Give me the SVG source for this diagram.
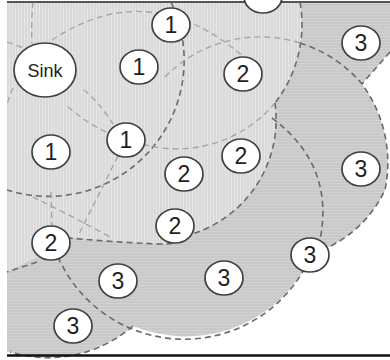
<svg xmlns="http://www.w3.org/2000/svg" width="390" height="360" viewBox="0 0 390 360">
<defs>
<pattern id="vs" width="3" height="10" patternUnits="userSpaceOnUse"><rect width="3" height="10" fill="#d9d9d9"/><rect width="1" height="10" fill="#e6e6e6"/></pattern>
<pattern id="hs" width="10" height="3" patternUnits="userSpaceOnUse"><rect width="10" height="3" fill="#c9c9c9"/><rect width="10" height="1" fill="#d2d2d2"/></pattern>
</defs>
<style>
.d{fill:none;stroke:#6a6a6a;stroke-width:1.6;stroke-dasharray:6 4}
.f{fill:none;stroke:#a3a3a3;stroke-width:1.3;stroke-dasharray:6 4}
.n ellipse{fill:#fff;stroke:#404040;stroke-width:1.7}
.n text{font-family:"Liberation Sans",Arial,sans-serif;font-size:23px;fill:#1e1e1e;text-anchor:middle}
</style>
<rect width="390" height="360" fill="#fff"/>
<g id="regions">
<path fill="url(#hs)" d="M7 2H390V52L362 84A133 133 0 0 1 385 190A120 120 0 0 1 322 250L305 268A138 138 0 0 1 133 326A130 130 0 0 1 10 352H7Z"/>
<path fill="url(#vs)" d="M7 2H300A128 128 0 0 1 275 103A120 120 0 0 1 195 233Q178 245 160 244Q110 242 70 238L51 250L7 272Z"/>
</g>
<g id="connectors">
<path class="d" d="M171 2A136 136 0 0 1 7 190"/>
<path class="d" d="M300 2A128 128 0 0 1 275 103"/>
<path class="f" d="M275 103A128 128 0 0 1 142 144"/>
<path class="f" d="M106 132Q85 122 66 105"/>
<path class="f" d="M84 90Q100 103 113 124"/>
<path class="f" d="M52 40Q150 -25 245 58"/>
<path class="f" d="M165 77A133 133 0 0 1 300 43"/>
<path class="d" d="M300 43A133 133 0 0 1 362 84A133 133 0 0 1 385 190A120 120 0 0 1 322 250"/>
<path class="d" d="M390 52L362 84"/>
<path class="d" d="M272 118Q335 165 320 240"/>
<path class="d" d="M275 103A120 120 0 0 1 195 233Q178 245 160 244Q110 242 70 238"/>
<path class="d" d="M37 262L7 272"/>
<path class="f" d="M118 156L78 236"/>
<path class="f" d="M33 197Q70 215 110 237"/>
<path class="f" d="M51 192L52 228"/>
<path class="f" d="M33 2Q31 22 32 44"/>
<path class="f" d="M7 42L24 48"/>
<path class="f" d="M13 88Q9 96 7 106"/>
<path class="d" d="M58 257A138 138 0 0 0 305 268"/>
<path class="d" d="M133 326A130 130 0 0 1 10 352"/>
</g>
<line x1="7" y1="2" x2="390" y2="2" stroke="#555" stroke-width="2"/>
<line x1="7" y1="355.5" x2="390" y2="355.5" stroke="#111" stroke-width="2.5"/>
<g id="node-partial" class="n"><ellipse cx="263" cy="-3" rx="19" ry="16"/></g>
<g id="node-sink" class="n"><ellipse cx="45" cy="70" rx="31" ry="27"/><text x="45" y="77" style="font-size:18px">Sink</text></g>
<g id="node-1a" class="n"><ellipse cx="171" cy="25" rx="19" ry="17"/><text x="171" y="33">1</text></g>
<g id="node-1b" class="n"><ellipse cx="139" cy="67" rx="19" ry="17"/><text x="139" y="75">1</text></g>
<g id="node-1c" class="n"><ellipse cx="51" cy="152" rx="19" ry="17"/><text x="51" y="160">1</text></g>
<g id="node-1d" class="n"><ellipse cx="126" cy="140" rx="19" ry="17"/><text x="126" y="148">1</text></g>
<g id="node-2a" class="n"><ellipse cx="243" cy="74" rx="19" ry="17"/><text x="243" y="82">2</text></g>
<g id="node-2b" class="n"><ellipse cx="241" cy="156" rx="19" ry="17"/><text x="241" y="164">2</text></g>
<g id="node-2c" class="n"><ellipse cx="184" cy="174" rx="19" ry="17"/><text x="184" y="182">2</text></g>
<g id="node-2d" class="n"><ellipse cx="175" cy="226" rx="19" ry="17"/><text x="175" y="234">2</text></g>
<g id="node-2e" class="n"><ellipse cx="51" cy="243" rx="19" ry="17"/><text x="51" y="251">2</text></g>
<g id="node-3a" class="n"><ellipse cx="361" cy="43" rx="19" ry="17"/><text x="361" y="51">3</text></g>
<g id="node-3b" class="n"><ellipse cx="361" cy="169" rx="19" ry="17"/><text x="361" y="177">3</text></g>
<g id="node-3c" class="n"><ellipse cx="310" cy="255" rx="19" ry="17"/><text x="310" y="263">3</text></g>
<g id="node-3d" class="n"><ellipse cx="224" cy="278" rx="19" ry="17"/><text x="224" y="286">3</text></g>
<g id="node-3e" class="n"><ellipse cx="118" cy="281" rx="19" ry="17"/><text x="118" y="289">3</text></g>
<g id="node-3f" class="n"><ellipse cx="73" cy="326" rx="19" ry="17"/><text x="73" y="334">3</text></g>
</svg>
